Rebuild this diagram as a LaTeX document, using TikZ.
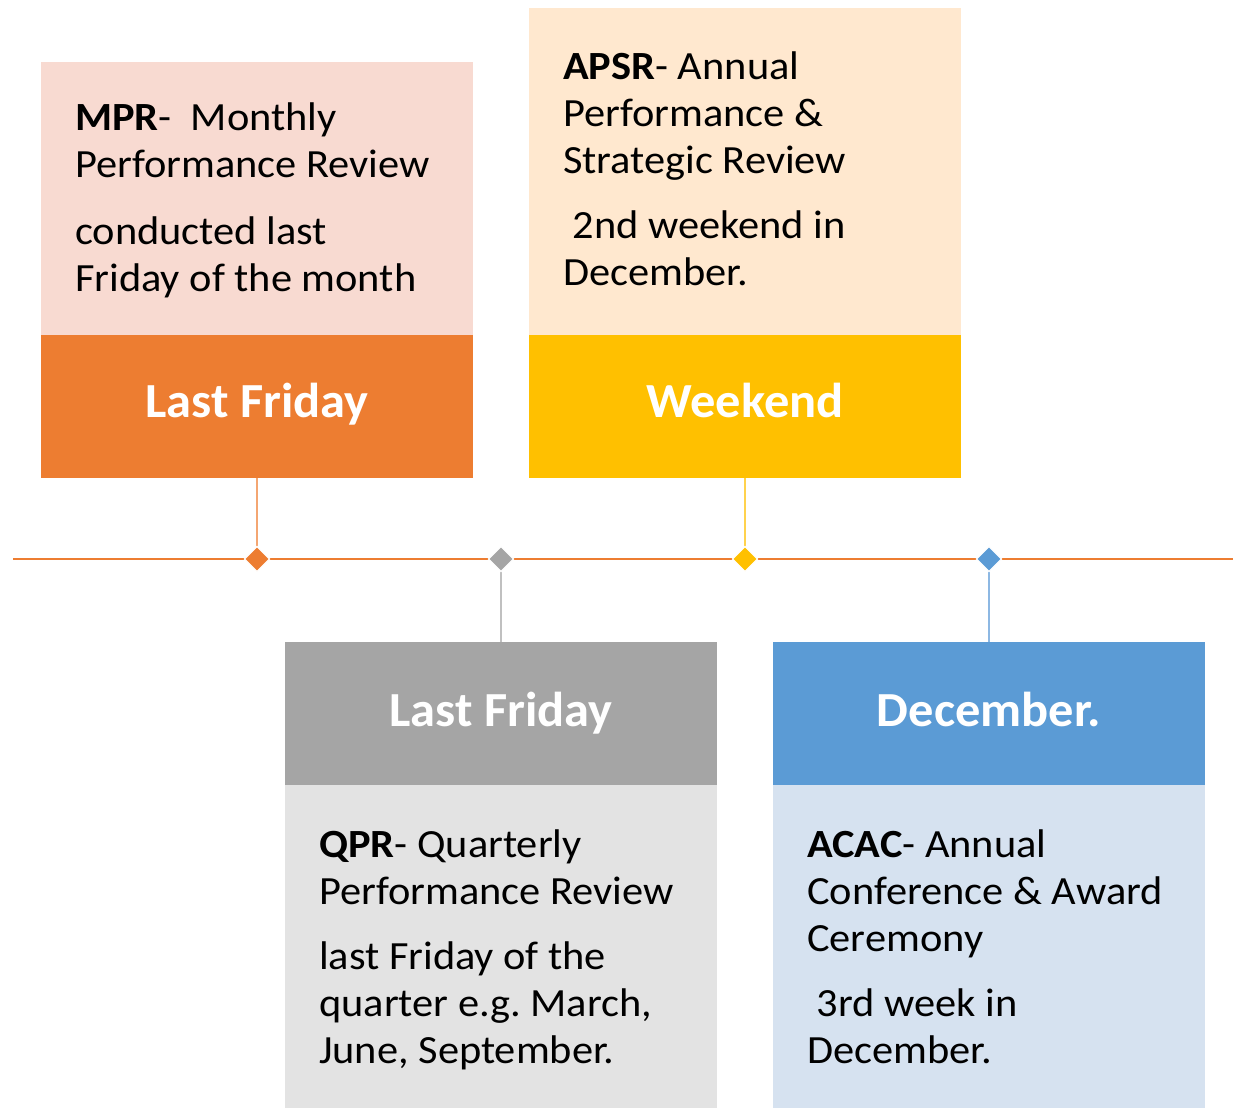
\documentclass[tikz,border=0pt]{standalone}
\usepackage{fontspec}
\setmainfont{Carlito}
\newfontfamily\bodyfont[FakeStretch=1.06]{Carlito}
\newfontfamily\headfont[FakeStretch=1.03]{Carlito}
\frenchspacing
\definecolor{cOrange}{HTML}{ED7D31}
\definecolor{cOrangeLt}{HTML}{F8DAD1}
\definecolor{cOrangeLn}{HTML}{F4A672}
\definecolor{cGold}{HTML}{FFC000}
\definecolor{cGoldLt}{HTML}{FFE8CF}
\definecolor{cGoldLn}{HTML}{FFD24D}
\definecolor{cGray}{HTML}{A5A5A5}
\definecolor{cGrayLt}{HTML}{E3E3E3}
\definecolor{cGrayLn}{HTML}{C0C0C0}
\definecolor{cBlue}{HTML}{5B9BD5}
\definecolor{cBlueLt}{HTML}{D6E2F0}
\definecolor{cBlueLn}{HTML}{8DB8E3}
\begin{document}
\begin{tikzpicture}[x=1pt,y=-1pt,
  panel/.style={inner sep=0pt,outer sep=0pt,anchor=north west,minimum width=432pt},
  head/.style={panel,minimum height=143pt,text=white,
    font=\headfont\fontsize{49}{58}\selectfont\bfseries,
    text height=31pt,text depth=10pt},
  lowhead/.style={head,text depth=5pt},
  body/.style={inner sep=0pt,anchor=base west,font=\bodyfont\fontsize{40}{47}\selectfont},
  link/.style={line width=2pt},
  mark/.style={fill=#1,draw=white,line width=1.2pt}
]
\useasboundingbox[fill=white] (0,0) rectangle (1248,1110);

% timeline
\coordinate (tlL) at (13,559);
\coordinate (tlR) at (1233,559);
\draw[cOrange,line width=2.5pt] (tlL) -- (tlR);

% panels
\node[panel,fill=cOrangeLt,minimum height=273pt] (mprbody) at (41,62) {};
\node[head,fill=cOrange] (mprhead) at (41,335) {Last Friday};
\node[panel,fill=cGoldLt,minimum height=327pt] (apsrbody) at (529,8) {};
\node[head,fill=cGold] (apsrhead) at (529,335) {Weekend};
\node[lowhead,fill=cGray] (qprhead) at (285,642) {Last Friday};
\node[panel,fill=cGrayLt,minimum height=323pt] (qprbody) at (285,785) {};
\node[lowhead,fill=cBlue] (acachead) at (773,642) {December.};
\node[panel,fill=cBlueLt,minimum height=323pt] (acacbody) at (773,785) {};

% milestone points on the timeline
\coordinate (dA) at (257,559);
\coordinate (dB) at (501,559);
\coordinate (dC) at (745,559);
\coordinate (dD) at (989,559);

% connectors (drawn under the diamonds)
\draw[link,cOrangeLn] (mprhead.south) -- (dA);
\draw[link,cGoldLn] (apsrhead.south) -- (dC);
\draw[link,cGrayLn] (dB) -- (qprhead.north);
\draw[link,cBlueLn] (dD) -- (acachead.north);

% diamonds
\foreach \nm/\col in {dA/cOrange,dB/cGray,dC/cGold,dD/cBlue}{
  \filldraw[mark=\col] ([yshift=12.5pt]\nm) -- ([xshift=12.5pt]\nm)
    -- ([yshift=-12.5pt]\nm) -- ([xshift=-12.5pt]\nm) -- cycle;
}

% texts
\node[body] (m1) at (75,131) {\textbf{MPR}-\ \ Monthly};
\node[body] (m2) at (75,178) {Performance Review};
\node[body] (m3) at (75,244) {conducted last};
\node[body] (m4) at (75,291) {Friday of the month};

\node[body] (a1) at (563,80) {\textbf{APSR}- Annual};
\node[body] (a2) at (563,127) {Performance \&};
\node[body] (a3) at (563,174) {Strategic Review};
\node[body] (a4) at (563,239) {\ 2nd weekend in};
\node[body] (a5) at (563,286) {December.};

\node[body] (q1) at (319,857) {\textbf{QPR}- Quarterly};
\node[body] (q2) at (319,904) {Performance Review};
\node[body] (q3) at (319,969) {last Friday of the};
\node[body] (q4) at (319,1016) {quarter e.g. March,};
\node[body] (q5) at (319,1063) {June, September.};

\node[body] (c1) at (807,857) {\textbf{ACAC}- Annual};
\node[body] (c2) at (807,904) {Conference \& Award};
\node[body] (c3) at (807,951) {Ceremony};
\node[body] (c4) at (807,1016) {\ 3rd week in};
\node[body] (c5) at (807,1063) {December.};
\end{tikzpicture}
\end{document}
